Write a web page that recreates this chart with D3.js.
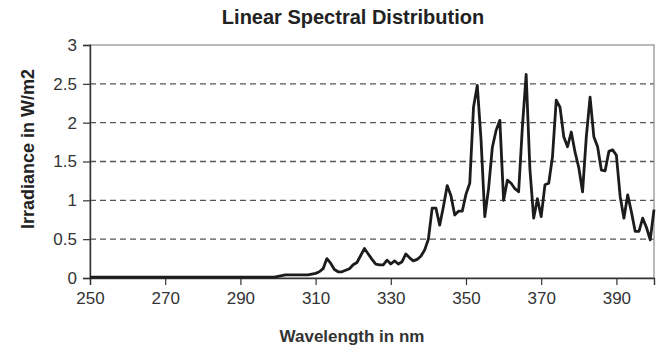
<!DOCTYPE html>
<html>
<head>
<meta charset="utf-8">
<script src="https://cdn.jsdelivr.net/npm/d3@7"></script>
<style>
  html, body { margin: 0; padding: 0; background: #fff; }
  svg { display: block; }
  text { font-family: "Liberation Sans", Arial, sans-serif; }
</style>
</head>
<body>
<svg id="chart" width="672" height="358"></svg>
<script>
const title = "Linear Spectral Distribution";
const xLabel = "Wavelength in nm";
const yLabel = "Irradiance in W/m2";
const xTicks = [250, 270, 290, 310, 330, 350, 370, 390];
const yTicks = [0, 0.5, 1, 1.5, 2, 2.5, 3];
const gridValues = [0.5, 1, 1.5, 2, 2.5];
const startWavelength = 250; // one value per nm, 250..400
const irradiance = [
  0.01,0.01,0.01,0.01,0.01,0.01,0.01,0.01,0.01,0.01, // 250-259
  0.01,0.01,0.01,0.01,0.01,0.01,0.01,0.01,0.01,0.01, // 260-269
  0.01,0.01,0.01,0.01,0.01,0.01,0.01,0.01,0.01,0.01, // 270-279
  0.01,0.01,0.01,0.01,0.01,0.01,0.01,0.01,0.01,0.01, // 280-289
  0.01,0.01,0.01,0.01,0.01,0.01,0.01,0.01,0.01,0.01, // 290-299
  0.02,0.03,0.04,0.04,0.04,0.04,0.04,0.04,0.04,0.05, // 300-309
  0.06,0.08,0.12,0.25,0.19,0.11,0.08,0.08,0.10,0.12, // 310-319
  0.17,0.20,0.29,0.38,0.31,0.24,0.18,0.17,0.17,0.23, // 320-329
  0.18,0.22,0.18,0.21,0.31,0.26,0.22,0.24,0.28,0.36, // 330-339
  0.50,0.90,0.90,0.68,0.92,1.19,1.06,0.81,0.86,0.86, // 340-349
  1.08,1.22,2.20,2.48,1.78,0.79,1.15,1.68,1.90,2.03, // 350-359
  1.00,1.26,1.22,1.15,1.11,1.95,2.62,1.40,0.77,1.02, // 360-369
  0.79,1.20,1.22,1.56,2.29,2.20,1.82,1.69,1.88,1.62, // 370-379
  1.42,1.11,1.82,2.33,1.82,1.69,1.39,1.38,1.63,1.65, // 380-389
  1.58,1.05,0.77,1.07,0.85,0.60,0.60,0.77,0.65,0.49, // 390-399
  0.88                                                // 400
];

const svg = d3.select("#chart");
const plotLeft = 90, plotRight = 654, plotTop = 45, plotBottom = 278;

const x = d3.scaleLinear().domain([250, 400]).range([plotLeft, plotRight]);
const y = d3.scaleLinear().domain([0, 3]).range([plotBottom, plotTop]);

const points = irradiance.map((v, i) => ({ w: startWavelength + i, v }));

// grid
svg.append("g").selectAll("line").data(gridValues).join("line")
  .attr("x1", plotLeft).attr("x2", plotRight)
  .attr("y1", d => y(d)).attr("y2", d => y(d))
  .attr("stroke", "#555").attr("stroke-width", 1.3)
  .attr("stroke-dasharray", "6,4");

// frame
svg.append("rect")
  .attr("x", plotLeft).attr("y", plotTop)
  .attr("width", plotRight - plotLeft).attr("height", plotBottom - plotTop)
  .attr("fill", "none").attr("stroke", "#8a8a8a").attr("stroke-width", 1.2);

// y axis
const yAxis = d3.axisLeft(y).tickValues(yTicks).tickSize(7).tickPadding(6)
  .tickFormat(d3.format("~g"));
const gy = svg.append("g").attr("transform", `translate(${plotLeft},0)`).call(yAxis);
gy.select(".domain").attr("stroke", "#333").attr("stroke-width", 1.4);
gy.selectAll(".tick line").attr("stroke", "#333").attr("stroke-width", 1.2);
gy.selectAll(".tick text").attr("font-size", 17).attr("fill", "#333")
  .attr("font-family", "Liberation Sans, Arial, sans-serif");

// x axis
const xAxis = d3.axisBottom(x).tickValues(xTicks).tickSize(7).tickPadding(7)
  .tickFormat(d3.format("d"));
const gx = svg.append("g").attr("transform", `translate(0,${plotBottom})`).call(xAxis);
gx.select(".domain").attr("stroke", "#333").attr("stroke-width", 1.4);
gx.selectAll(".tick line").attr("stroke", "#333").attr("stroke-width", 1.2);
gx.selectAll(".tick text").attr("font-size", 17).attr("fill", "#333")
  .attr("font-family", "Liberation Sans, Arial, sans-serif");

// line
const line = d3.line().x(d => x(d.w)).y(d => y(d.v));
svg.append("path").datum(points)
  .attr("d", line)
  .attr("fill", "none").attr("stroke", "#1c1c1c")
  .attr("stroke-width", 2.8).attr("stroke-linejoin", "round");

// title
svg.append("text").attr("x", 353).attr("y", 24)
  .attr("text-anchor", "middle").attr("font-weight", "bold")
  .attr("font-size", 20).attr("fill", "#222").text(title);

// x label
svg.append("text").attr("x", 352).attr("y", 342)
  .attr("text-anchor", "middle").attr("font-weight", "bold")
  .attr("font-size", 17).attr("fill", "#333").text(xLabel);

// y label
svg.append("text").attr("transform", "translate(34,149) rotate(-90)")
  .attr("text-anchor", "middle").attr("font-weight", "bold")
  .attr("font-size", 18).attr("fill", "#222").text(yLabel);
</script>
</body>
</html>
